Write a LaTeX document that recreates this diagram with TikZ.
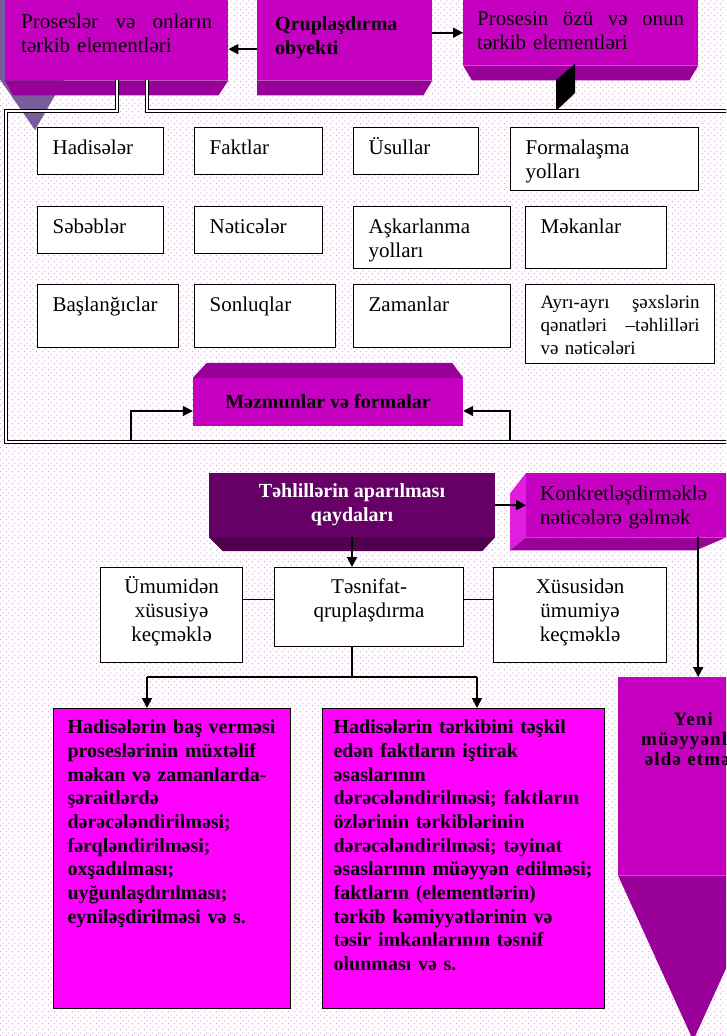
\documentclass[tikz,border=0pt]{standalone}
\usepackage{fontspec}
\setmainfont{Liberation Serif}
\usepackage{tikz}
\usetikzlibrary{arrows.meta,patterns.meta}

\definecolor{slabface}{HTML}{C600C0}
\definecolor{slabdark}{HTML}{990099}
\definecolor{slablight}{HTML}{E01EE0}
\definecolor{plumface}{HTML}{660066}
\definecolor{plumdark}{HTML}{4E004E}
\definecolor{hotpink}{HTML}{FF00FF}
\definecolor{greyviolet}{HTML}{7B5C9B}
\definecolor{dotpink}{HTML}{F266F2}

\tikzdeclarepattern{name=pinkdots,type=uncolored,
  bounding box={(0pt,0pt) and (6pt,6pt)},tile size={(6pt,6pt)},
  code={\pgfpathcircle{\pgfpoint{1.5pt}{1.5pt}}{0.65pt}
    \pgfpathcircle{\pgfpoint{4.5pt}{4.5pt}}{0.65pt}\pgfusepath{fill}}}

\begin{document}
\begin{tikzpicture}[x=1pt,y=-1pt]
\tikzset{cell/.style=
	{draw,fill=white,line width=1.2pt,anchor=north west,inner xsep=15pt,
	inner ysep=4pt,text height=23pt,align=left,font=\fontsize{21pt}{24pt}\selectfont},
	slab/.style=
	{fill=slabface,anchor=north west,inner ysep=4pt,align=left,
	font=\fontsize{21pt}{24pt}\selectfont},
	heavy/.style={font=\fontsize{20pt}{24pt}\selectfont\bfseries},
	arr/.style={line width=1.8pt,-{Triangle[length=10pt,width=10pt]}},
	link/.style={line width=1.3pt},
	frameline/.style={double,double distance=1.6pt,line width=1.6pt}}
\fill[white] (0,0) rectangle (726,1036);
\fill[pattern=pinkdots,pattern color=dotpink] (0,0) rectangle (726,1036);
\useasboundingbox (0,0) rectangle (726,1036);
\clip (0,0) rectangle (726,1036);

\fill[greyviolet] (-55,0) -- (110,0) -- (35,130) -- cycle;

\node[slab,text width=191pt,inner xsep=16pt,text height=24pt,text depth=48pt] (procs) at (5,0)
	{Proseslər \hfill və \hfill onların\\tərkib elementləri};
\fill[slabdark] (procs.south west) -- (procs.south east) -- ++(-10,15)
	-- ([shift={(8,15)}]procs.south west) -- cycle;
\node[slab,heavy,text width=139pt,inner xsep=18pt,text height=26pt,text depth=46pt] (grpobj) at (257,0)
	{Qruplaşdırma\\obyekti};
\fill[slabdark] (grpobj.south west) -- (grpobj.south east) -- ++(-9,15)
	-- ([shift={(0,15)}]grpobj.south west) -- cycle;
\node[slab,text width=207pt,inner xsep=14pt,text height=21pt,text depth=36pt] (proc) at (463,0)
	{Prosesin \hfill özü \hfill və \hfill onun\\tərkib elementləri};
\fill[slabdark] (proc.south west) -- (proc.south east) -- ++(-9,15)
	-- ([shift={(9,15)}]proc.south west) -- cycle;
\fill (556,80) -- (575,64) -- (575,93) -- (556,111) -- cycle;

\draw[arr] ([yshift=-9pt]grpobj.west) -- ([yshift=-9pt]procs.east);
\draw[arr] (grpobj.east |- proc.west) -- (proc.west);

\node[cell,text width=96pt,text depth=16pt] (hadise) at (37,127) {Hadisələr};
\node[cell,text width=98pt,text depth=16pt] (fakt) at (194,127) {Faktlar};
\node[cell,text width=95pt,text depth=16pt] (usul) at (353,127) {Üsullar};
\node[cell,text width=158pt,text depth=32pt] (formal) at (510,127) {Formalaşma\\yolları};
\node[cell,text width=96pt,text depth=16pt] (sabab) at (37,206) {Səbəblər};
\node[cell,text width=98pt,text depth=16pt] (natice) at (194,206) {Nəticələr};
\node[cell,text width=127pt,text depth=31pt] (ashkar) at (353,206) {Aşkarlanma\\yolları};
\node[cell,text width=111pt,text depth=31pt] (mekan) at (525,206) {Məkanlar};
\node[cell,text width=111pt,text depth=32pt] (bashl) at (37,284) {Başlanğıclar};
\node[cell,text width=111pt,text depth=32pt] (sonl) at (194,284) {Sonluqlar};
\node[cell,text width=127pt,text depth=32pt] (zaman) at (353,284) {Zamanlar};
\node[cell,text width=159pt,text height=20pt,text depth=51pt,font=\fontsize{19pt}{23pt}\selectfont] (ayri) at (525,284)
	{Ayrı-ayrı \hfill şəxslərin\\qənatləri \hfill –təhlilləri\\və nəticələri};

\node[fill=slabface,heavy,minimum width=270pt,minimum height=48pt] (mezmun) at (328,402)
	{Məzmunlar və formalar};
\fill[slabdark] (mezmun.north west) -- ++(14,-15) -- ([shift={(-11,-15)}]mezmun.north east)
	-- (mezmun.north east) -- cycle;
\coordinate (mzL) at (131,441);
\coordinate (mzR) at (510,441);
\draw[arr] (mzL) |- ([yshift=-9pt]mezmun.west);
\draw[arr] (mzR) |- ([yshift=-9pt]mezmun.east);

\draw[frameline] (117,80) -- (117,111) -- (6,111) -- (6,442) -- (740,442);
\draw[frameline] (147,80) -- (147,111) -- (740,111);

\node[fill=plumface,heavy,text=white,minimum width=286pt,minimum height=64pt,align=center] (tahlil) at (352,505)
	{Təhlillərin aparılması\\qaydaları};
\fill[plumdark] (tahlil.south west) -- (tahlil.south east) -- ++(-13,14)
	-- ([shift={(14,14)}]tahlil.south west) -- cycle;
\node[slab,text width=186pt,inner xsep=14pt,text height=23pt,text depth=33pt] (konkret) at (526,473)
	{Konkretləşdirməklə\\nəticələrə gəlmək};
\fill[slablight] (konkret.north west) -- (konkret.south west) -- ++(-16,13) -- ++(0,-57) -- cycle;
\fill[slabdark] (konkret.south west) -- ++(200,0) -- ++(-30,13)
	-- ([shift={(-16,13)}]konkret.south west) -- cycle;
\draw[arr] (tahlil.east) -- (konkret.west);

\node[cell,align=center,inner xsep=8pt,text width=126pt,text height=22pt,text depth=65pt] (umumi) at (100,567)
	{Ümumidən\\xüsusiyə\\keçməklə};
\node[cell,align=center,inner xsep=8pt,text width=173pt,text height=22pt,text depth=49pt] (tasnif) at (274,567)
	{Təsnifat-\\qruplaşdırma};
\node[cell,align=center,inner xsep=8pt,text width=157pt,text height=22pt,text depth=65pt] (xusus) at (493,567)
	{Xüsusidən\\ümumiyə\\keçməklə};
\coordinate (tl) at ([yshift=7.5pt]tasnif.west);
\draw[link] (umumi.east |- tl) -- (tl);
\draw[link] (tasnif.east |- tl) -- (xusus.west |- tl);
\draw[arr] (tahlil.south) -- (tahlil.south |- tasnif.north);

\node[cell,fill=hotpink,inner xsep=14pt,text width=209pt,text height=21pt,text depth=271pt,
	font=\fontsize{20pt}{23.7pt}\selectfont\bfseries] (hbox1) at (53,708)
	{Hadisələrin baş verməsi\\proseslərinin müxtəlif\\məkan və zamanlarda-\\şəraitlərdə\\dərəcələndirilməsi;\\fərqləndirilməsi;\\oxşadılması;\\uyğunlaşdırılması;\\eyniləşdirilməsi və s.};
\node[cell,fill=hotpink,inner xsep=11pt,text width=260pt,text height=21pt,text depth=271pt,
	font=\fontsize{20pt}{23.7pt}\selectfont\bfseries] (hbox2) at (322,708)
	{Hadisələrin tərkibini təşkil\\edən faktların iştirak\\əsaslarının\\dərəcələndirilməsi; faktların\\özlərinin tərkiblərinin\\dərəcələndirilməsi; təyinat\\əsaslarının müəyyən edilməsi;\\faktların (elementlərin)\\tərkib kəmiyyətlərinin və\\təsir imkanlarının təsnif\\olunması və s.};
\coordinate (lft) at (147,677);
\coordinate (rgt) at (477,677);
\draw[link] (tahlil.south |- tasnif.south) -- (tahlil.south |- lft);
\draw[link] (lft) -- (rgt);
\draw[arr] (lft) -- (lft |- hbox1.north);
\draw[arr] (rgt) -- (rgt |- hbox2.north);

\node[fill=slabface,anchor=north west,inner xsep=0pt,inner ysep=4pt,text width=150pt,align=center,
	text height=44pt,text depth=146pt,font=\fontsize{19pt}{20pt}\selectfont\bfseries\addfontfeature{LetterSpace=6}] (yeni) at (618,677)
	{Yeni\\müəyyənlik\\əldə etmək};
\fill[slabdark] (yeni.south west) -- (yeni.south east) -- ([yshift=-165pt]yeni.south) -- cycle;
\coordinate (ytop) at ([xshift=5pt]yeni.north);
\draw[arr] (ytop |- konkret.south) -- (ytop);
\end{tikzpicture}
\end{document}
